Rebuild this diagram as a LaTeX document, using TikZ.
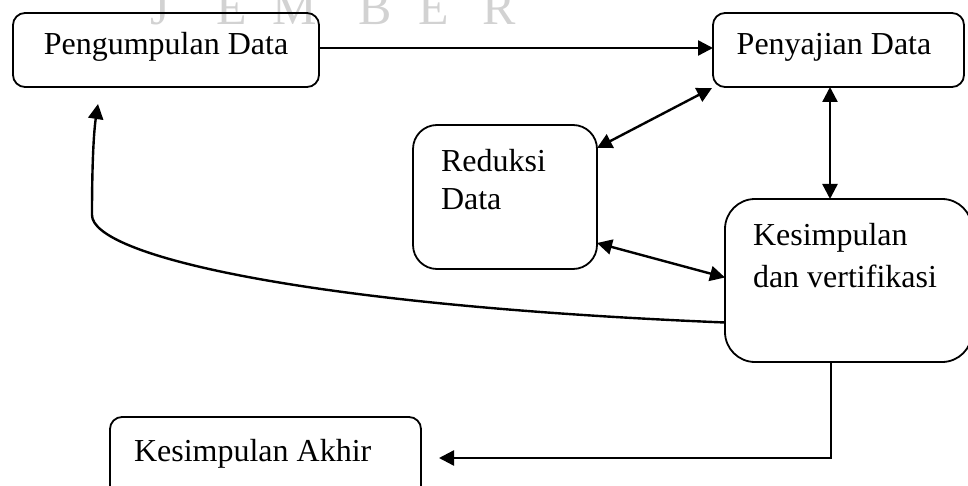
\documentclass[tikz,border=0pt]{standalone}
\usepackage{fontspec}
\setmainfont{Liberation Serif}
\usetikzlibrary{arrows.meta,calc}
\definecolor{wmgray}{RGB}{210,210,210}
\begin{document}
\begin{tikzpicture}[x=1pt,y=-1pt,
  box/.style={draw, line width=1.8pt, rounded corners=#1, inner sep=0pt, outer sep=0pt},
  lbl/.style={font=\fontsize{32}{38}\selectfont, inner sep=0pt, outer sep=0pt},
  wm/.style={font=\fontsize{50}{60}\selectfont, text=wmgray, inner sep=0pt, anchor=base west},
  conn/.style={line width=2.4pt, -{Triangle[length=15pt,width=15pt]}},
  bconn/.style={line width=2.4pt, {Triangle[length=15pt,width=15pt]}-{Triangle[length=15pt,width=15pt]}}]
\useasboundingbox (0,0) rectangle (968,486);

% faint letters along the top edge
\node[wm] (w1) at (150,25) {J};
\node[wm] (w2) at (216,25) {E};
\node[wm] (w3) at (272,25) {M};
\node[wm] (w4) at (358,25) {B};
\node[wm] (w5) at (418,25) {E};
\node[wm] (w6) at (482,25) {R};

% boxes
\node[box=12pt, minimum width=306pt, minimum height=74pt] (b1) at (166,50) {};
\node[box=12pt, minimum width=251pt, minimum height=74pt] (b2) at (838.5,50) {};
\node[box=24pt, minimum width=184pt, minimum height=144pt] (red) at (505,197) {};
\node[box=30pt, minimum width=247pt, minimum height=163pt] (b4) at (848.5,280.5) {};
\node[box=12pt, minimum width=311pt, minimum height=88pt] (b5) at (265.5,461) {};

% labels
\node[lbl, anchor=base] (t1) at (166,55) {Pengumpulan Data};
\node[lbl, anchor=base] (t2) at (834,55) {Penyajian Data};
\node[lbl, anchor=base west] (t3a) at (441,172) {Reduksi};
\node[lbl, anchor=base west] (t3b) at (441,210) {Data};
\node[lbl, anchor=base west] (t4a) at (753,245) {Kesimpulan};
\node[lbl, anchor=base west] (t4b) at (753,287) {dan vertifikasi};
\node[lbl, anchor=base west] (t5) at (134,461) {Kesimpulan Akhir};

% connectors
\draw[conn] ($(b1.east)+(0,-2)$) -- ($(b2.west)+(0,-2)$);
\draw[bconn] ($(b2.south west)+(-1,1)$) -- ($(red.north east)+(0,23)$);
\draw[bconn] ($(b2.south west)+(117,0)$) -- ($(b4.north west)+(105,0)$);
\draw[bconn] ($(red.south east)+(0,-26)$) -- ($(b4.west)+(0,-3)$);
\draw[conn] ($(b4.west)+(0,42)$) .. controls (300,305) and (92,255) .. (92,215)
  .. controls (92,160) and (94,130) .. ($(b1.south west)+(85,17)$);
\draw[conn] ($(b4.south west)+(106,0)$) |- ($(b5.east)+(18,-3)$);
\end{tikzpicture}
\end{document}
